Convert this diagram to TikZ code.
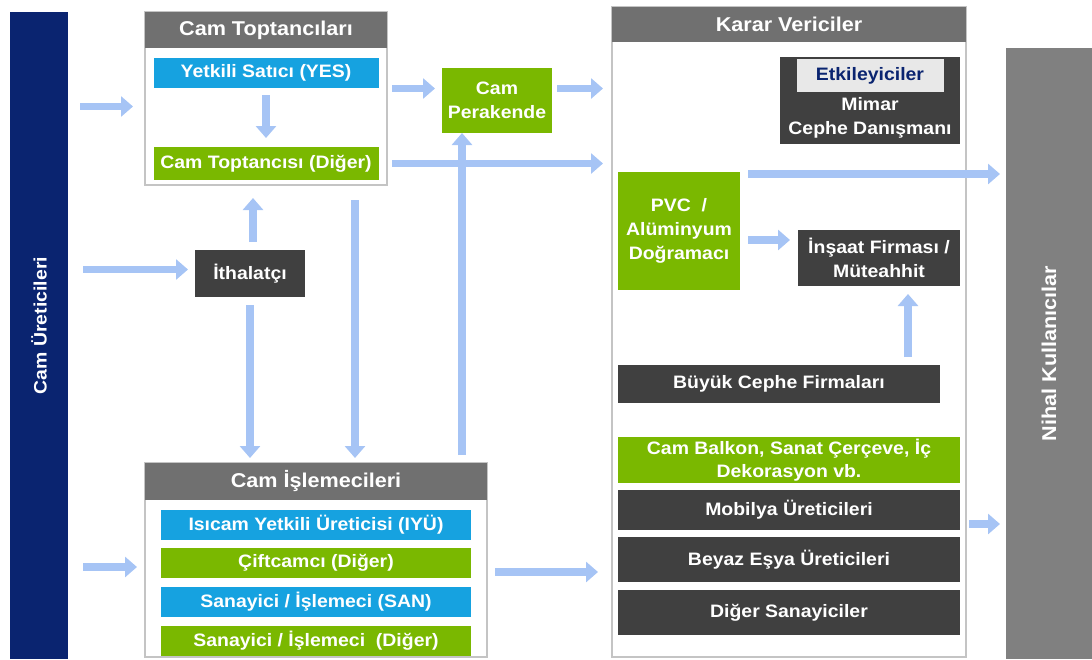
\documentclass[tikz,border=0pt]{standalone}
\usepackage{fontspec}
\setmainfont{Liberation Sans}[FakeStretch=1.08]
\usetikzlibrary{positioning,arrows.meta}

\definecolor{uretnavy}{RGB}{10,36,112}
\definecolor{hdrgray}{RGB}{112,112,112}
\definecolor{boxdark}{RGB}{64,64,64}
\definecolor{boxblue}{RGB}{22,162,224}
\definecolor{boxgreen}{RGB}{122,184,0}
\definecolor{flowblue}{RGB}{166,196,245}
\definecolor{grpline}{RGB}{196,196,196}
\definecolor{sidegray}{RGB}{128,128,128}
\definecolor{etklight}{RGB}{232,232,232}

\tikzset{
  base/.style={inner sep=0pt, outer sep=0pt, text=white, align=center,
    font=\fontsize{18}{24}\selectfont\bfseries},
  grpbox/.style={base, draw=grpline, line width=1.5pt, fill=white, anchor=north west},
  grphdr/.style={base, fill=hdrgray, anchor=north west,
    font=\fontsize{20}{24}\selectfont\bfseries},
  bluebox/.style={base, fill=boxblue},
  greenbox/.style={base, fill=boxgreen},
  darkbox/.style={base, fill=boxdark},
  sidebar/.style={base, anchor=north west},
  flow/.style={draw=flowblue, line width=7.5pt, -{Triangle[length=12pt,width=20pt]}},
}

\begin{document}
\begin{tikzpicture}[x=1pt, y=-1pt]
  \useasboundingbox (0,0) rectangle (1092,659);

  % producers and end users
  \node[sidebar, fill=uretnavy, minimum width=58pt, minimum height=647pt] (cu) at (10,12) {};
  \node[base, yshift=10pt, rotate=90] (culbl) at (cu) {Cam Üreticileri};
  \node[sidebar, fill=sidegray, minimum width=86pt, minimum height=611pt] (nk) at (1006,48) {};
  \node[base, rotate=90, font=\fontsize{20}{24}\selectfont\bfseries] (nklbl) at (nk) {Nihal Kullanıcılar};

  % wholesalers
  \node[grpbox, minimum width=242pt, minimum height=173pt] (topg) at (145,12) {};
  \node[grphdr, minimum width=242pt, minimum height=36pt] (toph) at (145,12) {Cam Toptancıları};
  \node[bluebox, minimum width=225pt, minimum height=30pt, below=10pt of toph] (yes) {Yetkili Satıcı (YES)};
  \node[greenbox, minimum width=225pt, minimum height=33pt, below=59pt of yes] (ctd) {Cam Toptancısı (Diğer)};

  \node[darkbox, minimum width=110pt, minimum height=47pt, anchor=north west] (ith) at (195,250) {İthalatçı};
  \node[greenbox, minimum width=110pt, minimum height=65pt, anchor=north west] (cpr) at (442,68) {Cam\\Perakende};

  % processors
  \node[grpbox, minimum width=342pt, minimum height=194pt] (islg) at (145,463) {};
  \node[grphdr, minimum width=342pt, minimum height=37pt] (islh) at (145,463) {Cam İşlemecileri};
  \node[bluebox, minimum width=310pt, minimum height=30pt, below=10pt of islh] (iyu) {Isıcam Yetkili Üreticisi (IYÜ)};
  \node[greenbox, minimum width=310pt, minimum height=30pt, below=8pt of iyu] (cift) {Çiftcamcı (Diğer)};
  \node[bluebox, minimum width=310pt, minimum height=30pt, below=9pt of cift] (san) {Sanayici / İşlemeci (SAN)};
  \node[greenbox, minimum width=310pt, minimum height=30pt, below=9pt of san] (sand) {Sanayici / İşlemeci\ \ (Diğer)};

  % decision makers
  \node[grpbox, minimum width=354pt, minimum height=650pt] (kar) at (612,7) {};
  \node[grphdr, minimum width=354pt, minimum height=35pt] (karh) at (612,7) {Karar Vericiler};
  \node[darkbox, minimum width=180pt, minimum height=87pt, anchor=north west] (etk) at (780,57) {};
  \node[base, fill=etklight, text=uretnavy, minimum width=147pt, minimum height=33pt, below=2pt of etk.north] (etklbl) {Etkileyiciler};
  \node[base, below=5pt of etklbl] (mimar) {Mimar\\Cephe Danışmanı};
  \node[greenbox, minimum width=122pt, minimum height=118pt, anchor=north west] (pvc) at (618,172) {PVC\ \ /\\Alüminyum\\Doğramacı};
  \node[darkbox, minimum width=162pt, minimum height=56pt, anchor=north west] (ins) at (798,230) {İnşaat Firması /\\Müteahhit};
  \node[darkbox, minimum width=322pt, minimum height=38pt, anchor=north west] (byk) at (618,365) {Büyük Cephe Firmaları};
  \node[greenbox, minimum width=342pt, minimum height=46pt, anchor=north west, font=\fontsize{18}{23}\selectfont\bfseries] (balk) at (618,437) {Cam Balkon, Sanat Çerçeve, İç\\Dekorasyon vb.};
  \node[darkbox, minimum width=342pt, minimum height=40pt, below=7pt of balk] (mob) {Mobilya Üreticileri};
  \node[darkbox, minimum width=342pt, minimum height=45pt, below=7pt of mob] (bey) {Beyaz Eşya Üreticileri};
  \node[darkbox, minimum width=342pt, minimum height=45pt, below=8pt of bey] (dsan) {Diğer Sanayiciler};

  % flows
  \draw[flow, shorten <=7pt, shorten >=9pt] (yes) -- (ctd);
  \draw[flow, shorten <=12pt, shorten >=12pt] ([yshift=-8pt]cu.east |- topg.west) -- ([yshift=-8pt]topg.west);
  \draw[flow, shorten <=15pt, shorten >=7pt] ([yshift=4pt]cu.east |- ith) -- ([yshift=4pt]ith.west);
  \draw[flow, shorten <=15pt, shorten >=8pt] ([yshift=-7pt]cu.east |- islg.west) -- ([yshift=-7pt]islg.west);
  \draw[flow, shorten <=8pt, shorten >=13pt] ([xshift=3pt]ith.north) -- ([xshift=3pt]ith.north |- topg.south);
  \draw[flow, shorten <=8pt, shorten >=5pt] (ith.south) -- (ith.south |- islg.north);
  \draw[flow, shorten <=15pt, shorten >=5pt] ([xshift=-32pt]topg.south east) -- ([xshift=-32pt]topg.south east |- islg.north);
  \draw[flow, shorten <=8pt] ([xshift=-25pt]islg.north east) -- ([xshift=-25pt]islg.north east |- cpr.south);
  \draw[flow, shorten <=5pt, shorten >=7pt] ([yshift=12pt]topg.east |- cpr.west) -- ([yshift=12pt]cpr.west);
  \draw[flow, shorten <=5pt, shorten >=9pt] ([yshift=12pt]cpr.east) -- ([yshift=12pt]cpr.east -| kar.west);
  \draw[flow, shorten <=5pt, shorten >=9pt] (topg.east |- ctd) -- (kar.west |- ctd);
  \draw[flow, shorten <=8pt, shorten >=6pt] ([yshift=-2pt]pvc.north east) -- ([yshift=-2pt]pvc.north east -| nk.west);
  \draw[flow, shorten <=8pt, shorten >=8pt] ([yshift=-9pt]pvc.east) -- ([yshift=-9pt]pvc.east -| ins.west);
  \draw[flow, shorten <=8pt, shorten >=8pt] ([xshift=29pt]ins.south |- byk.north) -- ([xshift=29pt]ins.south);
  \draw[flow, shorten <=8pt, shorten >=14pt] ([yshift=-12pt]islg.east) -- ([yshift=-12pt]islg.east -| kar.west);
  \draw[flow, shorten <=3pt, shorten >=6pt] ([yshift=-14pt]mob.east -| kar.east) -- ([yshift=-14pt]mob.east -| nk.west);
\end{tikzpicture}
\end{document}
